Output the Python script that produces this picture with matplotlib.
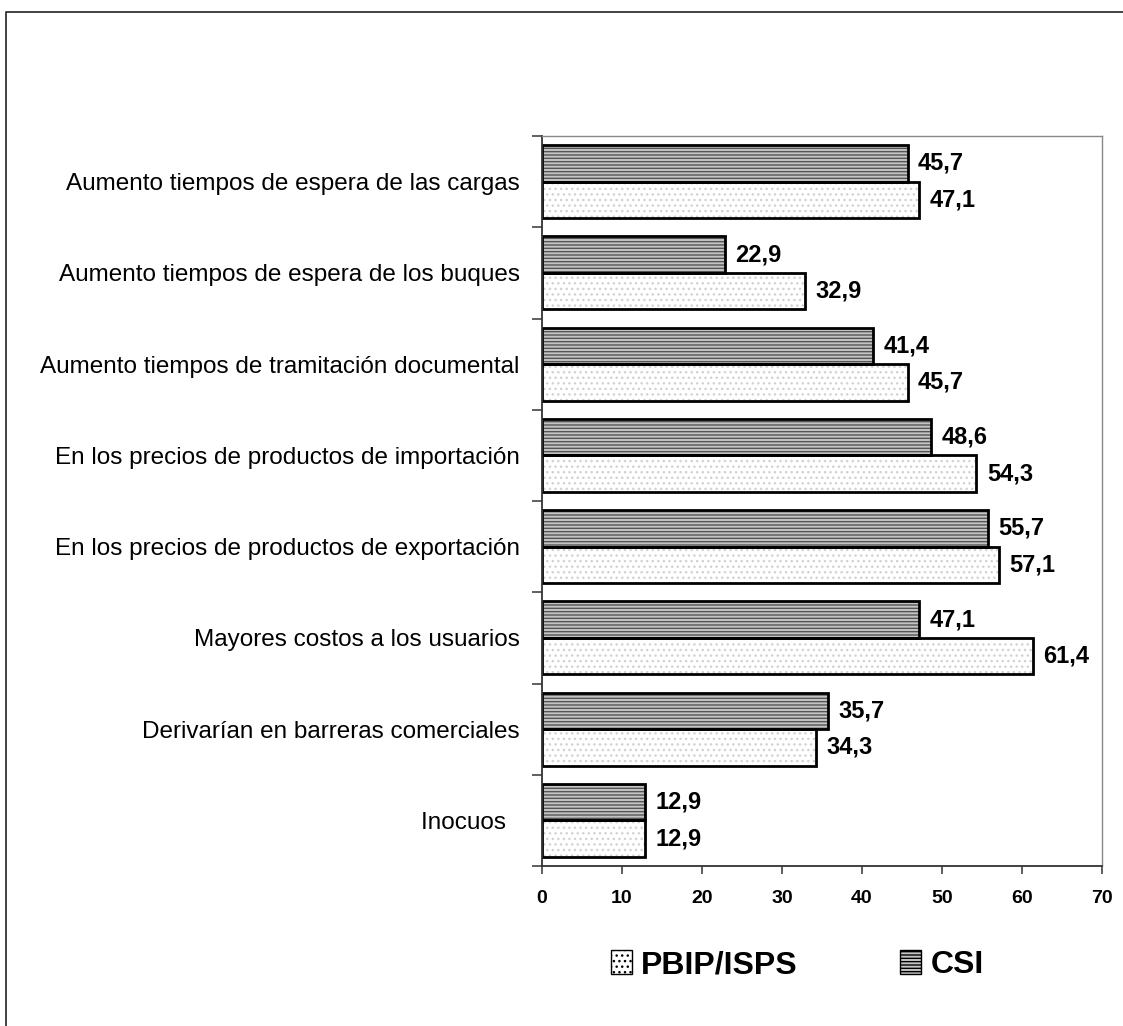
import matplotlib
matplotlib.use("Agg")
import matplotlib.pyplot as plt
from matplotlib.lines import Line2D
from matplotlib.patches import Patch
import numpy as np

plt.rcParams['font.family'] = ['Liberation Sans', 'DejaVu Sans']

categories = [
    "Aumento tiempos de espera de las cargas",
    "Aumento tiempos de espera de los buques",
    "Aumento tiempos de tramitación documental",
    "En los precios de productos de importación",
    "En los precios de productos de exportación",
    "Mayores costos a los usuarios",
    "Derivarían en barreras comerciales",
    "Inocuos  ",
]
csi = [45.7, 22.9, 41.4, 48.6, 55.7, 47.1, 35.7, 12.9]
pbip = [47.1, 32.9, 45.7, 54.3, 57.1, 61.4, 34.3, 12.9]
xticks = [0, 10, 20, 30, 40, 50, 60, 70]

W, H = 1123, 1026
fig = plt.figure(figsize=(W / 100, H / 100), dpi=100)
ax = fig.add_axes([542 / W, 1 - 866 / H, 560 / W, 730 / H])

# frame of the original document (only left and top edges show)
fig.lines.append(Line2D([6 / W, 6 / W, 1.0], [0.0, 1 - 12 / H, 1 - 12 / H],
                        transform=fig.transFigure, color='#333333', linewidth=1.3))

y = np.arange(len(categories))
h = 0.4

plt.rcParams['hatch.linewidth'] = 1.0
# hatched fills first, black outlines drawn over them
ax.barh(y - h / 2, csi, height=h, color='#c4c4c4', edgecolor='#555555',
        hatch='-----', linewidth=0)
ax.barh(y + h / 2, pbip, height=h, color='white', edgecolor='#d2d2d2',
        hatch='...', linewidth=0)
ax.barh(y - h / 2, csi, height=h, fill=False, edgecolor='black', linewidth=2)
ax.barh(y + h / 2, pbip, height=h, fill=False, edgecolor='black', linewidth=2)

for yi, v in zip(y, csi):
    ax.text(v + 1.3, yi - h / 2, f"{v:.1f}".replace('.', ','), va='center',
            ha='left', fontsize=17, fontweight='bold')
for yi, v in zip(y, pbip):
    ax.text(v + 1.3, yi + h / 2, f"{v:.1f}".replace('.', ','), va='center',
            ha='left', fontsize=17, fontweight='bold')

ax.set_xlim(0, 70)
ax.set_ylim(len(categories) - 0.5, -0.5)
ax.set_xticks(xticks)
ax.set_xticklabels([str(t) for t in xticks], fontsize=14, fontweight='bold')
ax.set_yticks(y)
ax.set_yticklabels(categories, fontsize=17.5)
ax.set_yticks(np.arange(len(categories) + 1) - 0.5, minor=True)
ax.tick_params(axis='y', which='major', length=0, pad=16)
ax.tick_params(axis='y', which='minor', length=7, direction='out', width=1.2, color='#444444')
ax.tick_params(axis='x', length=6, direction='out', width=1.2, color='#444444', pad=11)

for s in ['top', 'right']:
    ax.spines[s].set_color('#888888')
    ax.spines[s].set_linewidth(1.0)
for s in ['left', 'bottom']:
    ax.spines[s].set_color('#333333')
    ax.spines[s].set_linewidth(1.3)

handles = [
    Patch(facecolor='white', edgecolor='black', hatch='...', label='PBIP/ISPS'),
    Patch(facecolor='#c4c4c4', edgecolor='black', hatch='-----', label='CSI'),
]
fig.legend(handles=handles, loc='center', bbox_to_anchor=(0.71, 1 - 965 / H),
           ncol=2, frameon=False, prop={'size': 23, 'weight': 'bold'},
           handlelength=0.65, handleheight=0.75, handletextpad=0.3, columnspacing=3.2)

fig.savefig("out.png", dpi=100)
